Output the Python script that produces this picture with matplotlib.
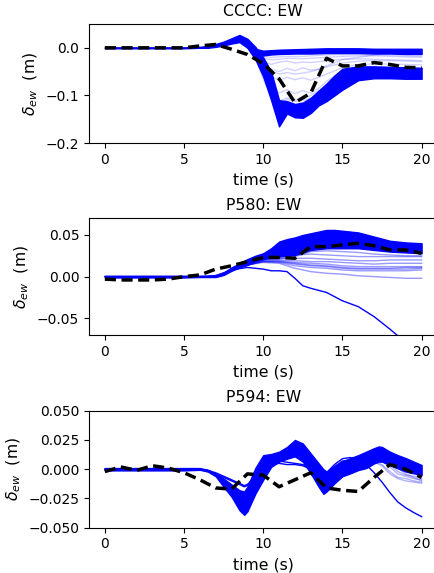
import matplotlib

matplotlib.use("Agg")
import matplotlib.pyplot as plt
import numpy as np

# ---------------- CCCC: EW ----------------
cccc_obs_t = list(range(21))
cccc_obs = [0.0, 0.0, 0.0, 0.0, 0.0, 0.0, 0.004, 0.007, -0.003, -0.014, -0.033,
            -0.065, -0.115, -0.095, -0.022, -0.038, -0.038, -0.031, -0.035, -0.041, -0.042]

cccc_band_t = [0, 5, 6, 6.5, 7, 7.5, 8, 8.5, 9, 9.5, 10, 10.5, 11, 11.5, 12, 12.5,
               13, 13.5, 14, 14.5, 15, 16, 17, 18, 19, 20]
cccc_band_hi = [0.001, 0.001, 0.002, 0.004, 0.008, 0.013, 0.02, 0.027, 0.019, 0.002,
                -0.02, -0.05, -0.11, -0.112, -0.118, -0.115, -0.105, -0.09, -0.075,
                -0.058, -0.044, -0.039, -0.039, -0.040, -0.041, -0.042]
cccc_band_lo = [-0.001, -0.001, 0.0, 0.0, 0.002, 0.005, 0.009, 0.012, 0.0, -0.024,
                -0.06, -0.11, -0.165, -0.138, -0.146, -0.147, -0.137, -0.121, -0.112,
                -0.100, -0.088, -0.068, -0.064, -0.064, -0.065, -0.065]

cccc_top_t = [9.6, 10, 10.5, 11, 12, 13, 14, 15, 16, 17, 18, 19, 20]
cccc_top_hi = [-0.003, -0.006, -0.005, -0.004, -0.003, -0.002, -0.001, -0.001,
               -0.001, -0.002, -0.002, -0.002, -0.002]
cccc_top_lo = [-0.006, -0.016, -0.014, -0.013, -0.012, -0.012, -0.011, -0.011,
               -0.011, -0.012, -0.012, -0.013, -0.013]

cccc_faint_t = [9.5, 10, 10.5, 11, 11.5, 12, 12.5, 13, 13.5, 14, 15, 16, 17, 18, 19, 20]
cccc_faint = [
    [0.0, -0.018, -0.020, -0.019, -0.018, -0.018, -0.018, -0.017, -0.016, -0.015,
     -0.014, -0.014, -0.015, -0.016, -0.017, -0.018],
    [0.0, -0.022, -0.025, -0.024, -0.022, -0.022, -0.023, -0.022, -0.021, -0.020,
     -0.018, -0.017, -0.017, -0.018, -0.019, -0.020],
    [-0.005, -0.03, -0.045, -0.05, -0.043, -0.048, -0.042, -0.047, -0.045, -0.04,
     -0.032, -0.028, -0.027, -0.027, -0.028, -0.029],
    [-0.01, -0.04, -0.06, -0.068, -0.062, -0.067, -0.063, -0.068, -0.062, -0.055,
     -0.042, -0.035, -0.034, -0.034, -0.035, -0.036],
    [-0.015, -0.05, -0.08, -0.095, -0.088, -0.096, -0.09, -0.095, -0.085, -0.07,
     -0.05, -0.042, -0.04, -0.041, -0.042, -0.043],
    [-0.008, -0.028, -0.035, -0.030, -0.028, -0.032, -0.030, -0.031, -0.029, -0.027,
     -0.024, -0.023, -0.024, -0.025, -0.026, -0.027],
    [-0.02, -0.06, -0.10, -0.112, -0.105, -0.11, -0.108, -0.10, -0.09, -0.08,
     -0.06, -0.05, -0.045, -0.046, -0.047, -0.047],
    [-0.01, -0.035, -0.05, -0.055, -0.052, -0.055, -0.053, -0.05, -0.045, -0.038,
     -0.025, -0.02, -0.015, -0.012, -0.012, -0.012],
    [-0.02, -0.065, -0.105, -0.118, -0.108, -0.113, -0.110, -0.106, -0.098, -0.085,
     -0.062, -0.05, -0.048, -0.048, -0.049, -0.05],
]

# ---------------- P580: EW ----------------
p580_obs_t = list(range(21))
p580_obs = [-0.003, -0.004, -0.004, -0.004, -0.003, 0.0, 0.002, 0.009, 0.013, 0.018,
            0.023, 0.023, 0.022, 0.036, 0.036, 0.038, 0.040, 0.037, 0.032, 0.032, 0.028]

p580_band_t = [0, 5, 6, 6.5, 7, 7.5, 8, 8.5, 9, 9.5, 10, 10.5, 11, 11.5, 12, 12.5,
               13, 13.5, 14, 14.5, 15, 15.5, 16, 17, 18, 19, 20]
p580_band_hi = [0.001, 0.001, 0.001, 0.001, 0.002, 0.005, 0.011, 0.016, 0.021, 0.025,
                0.028, 0.034, 0.042, 0.045, 0.047, 0.050, 0.052, 0.054, 0.056, 0.056,
                0.055, 0.054, 0.053, 0.048, 0.043, 0.041, 0.040]
p580_band_lo = [-0.001, -0.001, -0.0005, -0.0005, -0.0005, 0.002, 0.007, 0.011, 0.014,
                0.018, 0.021, 0.023, 0.024, 0.025, 0.026, 0.029, 0.032, 0.033, 0.034,
                0.034, 0.034, 0.034, 0.034, 0.032, 0.030, 0.029, 0.028]

p580_low_t = [9, 10, 11, 12, 13, 14, 15, 16, 17, 18, 19, 20]
p580_low = [
    [0.016, 0.022, 0.024, 0.026, 0.027, 0.026, 0.025, 0.024, 0.024, 0.024, 0.024, 0.024],
    [0.016, 0.021, 0.022, 0.022, 0.022, 0.021, 0.020, 0.019, 0.019, 0.020, 0.020, 0.020],
    [0.015, 0.020, 0.020, 0.019, 0.018, 0.018, 0.017, 0.016, 0.015, 0.016, 0.016, 0.016],
    [0.015, 0.019, 0.019, 0.017, 0.016, 0.015, 0.013, 0.012, 0.012, 0.012, 0.012, 0.012],
    [0.014, 0.018, 0.018, 0.015, 0.013, 0.012, 0.010, 0.009, 0.009, 0.009, 0.009, 0.010],
    [0.014, 0.018, 0.017, 0.013, 0.011, 0.010, 0.008, 0.007, 0.007, 0.007, 0.007, 0.008],
    [0.014, 0.017, 0.016, 0.010, 0.006, 0.004, 0.003, 0.001, 0.0, -0.001, -0.002, -0.002],
    [0.015, 0.020, 0.021, 0.024, 0.030, 0.031, 0.030, 0.029, 0.027, 0.026, 0.025, 0.025],
    [0.014, 0.018, 0.018, 0.016, 0.014, 0.013, 0.011, 0.010, 0.010, 0.010, 0.011, 0.011],
]

p580_out_t = [0, 6, 7, 8, 9, 10, 10.5, 11, 11.5, 12, 12.5, 13, 14, 15, 16, 17, 18, 19, 20]
p580_out = [0.0, 0.0, 0.001, 0.008, 0.011, 0.009, 0.007, 0.007, 0.006, -0.002, -0.011,
            -0.014, -0.019, -0.029, -0.036, -0.048, -0.063, -0.079, -0.095]

# ---------------- P594: EW ----------------
p594_obs_t = list(range(21))
p594_obs = [-0.002, 0.002, -0.001, 0.003, 0.001, -0.003, -0.009, -0.016, -0.017, -0.004,
            -0.005, -0.015, -0.009, -0.003, -0.016, -0.018, -0.019, -0.007, 0.004, 0.0, -0.007]

p594_band_t = [0, 5, 6, 6.5, 7, 7.5, 8, 8.5, 8.8, 9, 9.5, 10, 10.5, 11, 11.5, 12,
               12.5, 13, 13.5, 13.8, 14, 14.5, 15, 15.5, 16, 16.5, 17, 17.3, 17.5,
               18, 18.5, 19, 19.5, 20]
p594_band_hi = [0.001, 0.001, 0.001, -0.0005, -0.004, -0.008, -0.013, -0.018, -0.019,
                -0.015, 0.001, 0.012, 0.013, 0.015, 0.019, 0.025, 0.022, 0.0135, 0.005,
                0.0, -0.002, 0.003, 0.0065, 0.0095, 0.012, 0.015, 0.018, 0.0195, 0.019,
                0.015, 0.012, 0.0095, 0.0065, 0.0036]
p594_band_lo = [-0.001, -0.001, -0.0005, -0.002, -0.006, -0.015, -0.0235, -0.035,
                -0.039, -0.036, -0.021, -0.009, 0.002, 0.0065, 0.009, 0.011, 0.0065,
                -0.0035, -0.015, -0.021, -0.019, -0.012, -0.006, -0.0035, -0.0007,
                0.001, 0.005, 0.0065, 0.0065, 0.0036, 0.0007, -0.002, -0.0035, -0.005]

p594_thin_t = [0, 6, 6.5, 7, 7.5, 8, 8.5, 8.8, 9, 9.5, 10, 10.5, 11, 11.5, 12, 12.5,
               13, 13.5, 14, 14.5, 15, 15.5, 16, 16.5, 17, 17.5, 18, 18.5, 19, 19.5, 20]
p594_thin = [
    [0.0, 0.0, -0.001, -0.004, -0.007, -0.010, -0.013, -0.015, -0.014, -0.008, 0.001,
     0.004, 0.005, 0.004, 0.004, 0.003, 0.0, -0.004, -0.003, 0.004, 0.009, 0.010, 0.008,
     0.004, -0.003, -0.011, -0.020, -0.028, -0.033, -0.037, -0.0405],
    [0.0, 0.0, -0.001, -0.003, -0.006, -0.009, -0.012, -0.014, -0.013, -0.006, 0.003,
     0.006, 0.007, 0.006, 0.005, 0.004, 0.0, -0.004, -0.004, 0.002, 0.007, 0.008, 0.010,
     0.012, 0.012, 0.008, 0.004, 0.001, -0.001, -0.002, -0.003],
]

p594_end_t = [16, 16.5, 17, 17.5, 18, 18.5, 19, 19.5, 20]
p594_end = [
    [0.004, 0.006, 0.007, 0.004, -0.002, -0.007, -0.008, -0.010, -0.011],
    [0.006, 0.008, 0.009, 0.007, 0.002, -0.004, -0.006, -0.008, -0.009],
    [0.005, 0.007, 0.009, 0.008, 0.004, -0.002, -0.005, -0.006, -0.008],
    [0.008, 0.010, 0.012, 0.010, 0.006, 0.001, -0.004, -0.007, -0.010],
    [0.003, 0.005, 0.006, 0.003, -0.004, -0.008, -0.010, -0.011, -0.012],
]

TITLES = ["CCCC: EW", "P580: EW", "P594: EW"]
YLIMS = [(-0.2, 0.05), (-0.07, 0.07), (-0.05, 0.05)]
YTICKS = [[-0.2, -0.1, 0.0], [-0.05, 0.0, 0.05], [-0.05, -0.025, 0.0, 0.025, 0.05]]
YFMT = ["{:.1f}", "{:.2f}", "{:.3f}"]
POSITIONS = [
    [0.2046, 0.7504, 0.801, 0.2077],
    [0.2046, 0.4154, 0.801, 0.2037],
    [0.2046, 0.0790, 0.801, 0.2042],
]


def draw_band(ax, t, lo, hi):
    ax.fill_between(t, lo, hi, color="blue", edgecolor="blue", linewidth=1.0)


def draw_faint(ax, t, curves, alpha=0.25):
    for c in curves:
        ax.plot(t, c, color="blue", alpha=alpha, linewidth=1.0)


def style_axis(ax, i):
    ax.set_xlim(-1, 21)
    ax.set_ylim(*YLIMS[i])
    ax.set_xticks([0, 5, 10, 15, 20])
    ax.set_yticks(YTICKS[i])
    ax.set_yticklabels([YFMT[i].format(v).replace("-", "\u2212") for v in YTICKS[i]])
    ax.tick_params(labelsize=10)
    ax.set_title(TITLES[i], fontsize=11.3)
    ax.set_xlabel("time (s)", fontsize=11.3)
    ax.set_ylabel(r"$\delta_{ew}$  (m)", fontsize=11.3)


def main():
    fig = plt.figure(figsize=(4.35, 5.73), dpi=100)
    axes = [fig.add_axes(p) for p in POSITIONS]

    ax = axes[0]
    draw_faint(ax, cccc_faint_t, cccc_faint, alpha=0.18)
    draw_band(ax, cccc_band_t, cccc_band_lo, cccc_band_hi)
    draw_band(ax, cccc_top_t, cccc_top_lo, cccc_top_hi)
    ax.plot(cccc_obs_t, cccc_obs, "k--", linewidth=2.5, dashes=(3.2, 1.6))

    ax = axes[1]
    draw_faint(ax, p580_low_t, p580_low, alpha=0.4)
    draw_band(ax, p580_band_t, p580_band_lo, p580_band_hi)
    ax.plot(p580_out_t, p580_out, color="blue", linewidth=1.0)
    ax.plot(p580_obs_t, p580_obs, "k--", linewidth=2.5, dashes=(3.2, 1.6))

    ax = axes[2]
    draw_faint(ax, p594_end_t, p594_end, alpha=0.3)
    draw_band(ax, p594_band_t, p594_band_lo, p594_band_hi)
    for c in p594_thin:
        ax.plot(p594_thin_t, c, color="blue", linewidth=1.0)
    ax.plot(p594_obs_t, p594_obs, "k--", linewidth=2.5, dashes=(3.2, 1.6))

    for i, ax in enumerate(axes):
        style_axis(ax, i)

    fig.savefig("out.png", dpi=100)
    plt.close(fig)


if __name__ == "__main__":
    main()
